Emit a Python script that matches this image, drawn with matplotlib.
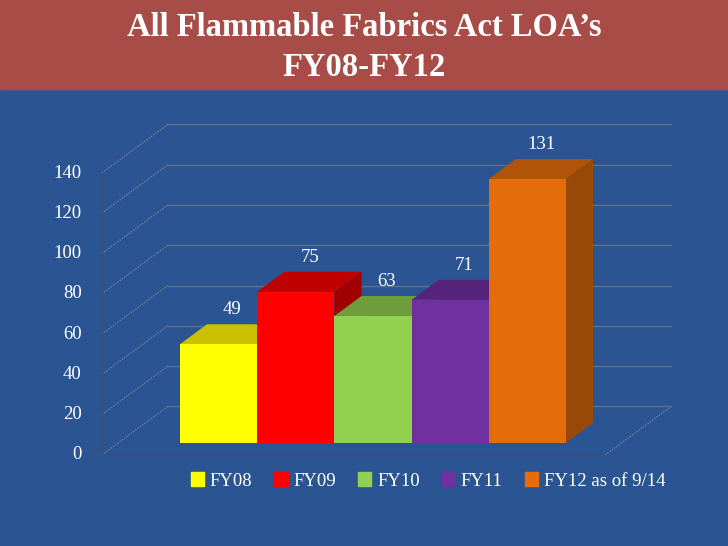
import matplotlib
matplotlib.use("Agg")
import matplotlib.pyplot as plt
from matplotlib.patches import Polygon, Rectangle, Patch

# ---------------------------------------------------------------------------
# Data
# ---------------------------------------------------------------------------
categories = ["FY08", "FY09", "FY10", "FY11", "FY12 as of 9/14"]
values = [49, 75, 63, 71, 131]
yticks = [0, 20, 40, 60, 80, 100, 120, 140]

front_colours = ["#FFFF00", "#FF0000", "#92D050", "#7030A0", "#E46C0A"]
top_colours = ["#C8C000", "#C00000", "#6F9D3C", "#55237A", "#B05507"]
side_colours = ["#A8A000", "#A00000", "#5C8430", "#461D66", "#984807"]

BG = "#2B5493"
BAND = "#A84C47"
GRID = "#5F6F8C"
FONT = "Liberation Serif"

# fake 3-D: depth vector (category units, value units)
DX, DY = 0.855, 24.1
D0, D1 = 0.25, 0.66          # bar front / back depth
WALL_X0, WALL_X1 = -1.3, 5.22

fig = plt.figure(figsize=(7.28, 5.46), dpi=100, facecolor=BG)
fig.patches.append(Rectangle((0, 1 - 89 / 546), 1, 89 / 546,
                             transform=fig.transFigure, color=BAND, zorder=0))
fig.text(0.5, 1 - 27 / 546, "All Flammable Fabrics Act LOA\u2019s", ha="center", va="center",
         color="white", fontsize=23.5, fontweight="bold", family=FONT)
fig.text(0.5, 1 - 67 / 546, "FY08-FY12", ha="center", va="center",
         color="white", fontsize=23.5, fontweight="bold", family=FONT)

ax = fig.add_axes([0, 0, 1, 1])
ax.set_xlim(-2.618, 6.812)
ax.set_ylim(-45.2, 225.9)
ax.axis("off")

# ---- walls and gridlines ----
for v in yticks:
    # back wall gridline
    ax.plot([WALL_X0 + DX, WALL_X1 + DX], [v + DY, v + DY], color=GRID, lw=1, zorder=1)
    # side wall diagonal
    ax.plot([WALL_X0, WALL_X0 + DX], [v, v + DY], color="#74809A", lw=1,
            ls=(0, (1, 1)), zorder=1)
    ax.text(WALL_X0 - 0.26, v, str(v), ha="right", va="center", color="white",
            fontsize=13.5, family=FONT)

# floor edges and front axis
ax.plot([WALL_X0, WALL_X1], [0, 0], color="#3E4F72", lw=1, zorder=1)
ax.plot([WALL_X1, WALL_X1 + DX], [0, DY], color="#74809A", lw=1, ls=(0, (1, 1)), zorder=1)
ax.plot([WALL_X0, WALL_X0], [0, yticks[-1]], color="#3E4F72", lw=1, zorder=1)

# ---- bars ----
for i, v in enumerate(values):
    z = 3 + i
    ax.bar(i + D0 * DX, v, bottom=D0 * DY, width=1, color=front_colours[i],
           linewidth=0, zorder=z + 0.2)
    top = [(i - 0.5 + D0 * DX, v + D0 * DY), (i + 0.5 + D0 * DX, v + D0 * DY),
           (i + 0.5 + D1 * DX, v + D1 * DY), (i - 0.5 + D1 * DX, v + D1 * DY)]
    side = [(i + 0.5 + D0 * DX, D0 * DY), (i + 0.5 + D1 * DX, D1 * DY),
            (i + 0.5 + D1 * DX, v + D1 * DY), (i + 0.5 + D0 * DX, v + D0 * DY)]
    ax.add_patch(Polygon(top, closed=True, color=top_colours[i], lw=0, zorder=z))
    ax.add_patch(Polygon(side, closed=True, color=side_colours[i], lw=0, zorder=z))
    ax.text(i + 0.46 * DX, v + D1 * DY + 3, str(v), ha="center", va="bottom",
            color="white", fontsize=13.5, family=FONT, zorder=20)

# ---- legend ----
handles = [Patch(color=c, label=l) for c, l in zip(front_colours, categories)]
leg = fig.legend(handles=handles, loc="center", bbox_to_anchor=(0.588, 1 - 481 / 546),
                 ncol=5, frameon=False, handlelength=0.7, handleheight=0.7,
                 handletextpad=0.3, columnspacing=1.2,
                 prop={"family": FONT, "size": 13.5})
for t in leg.get_texts():
    t.set_color("white")

fig.savefig("out.png", dpi=100, facecolor=BG)
